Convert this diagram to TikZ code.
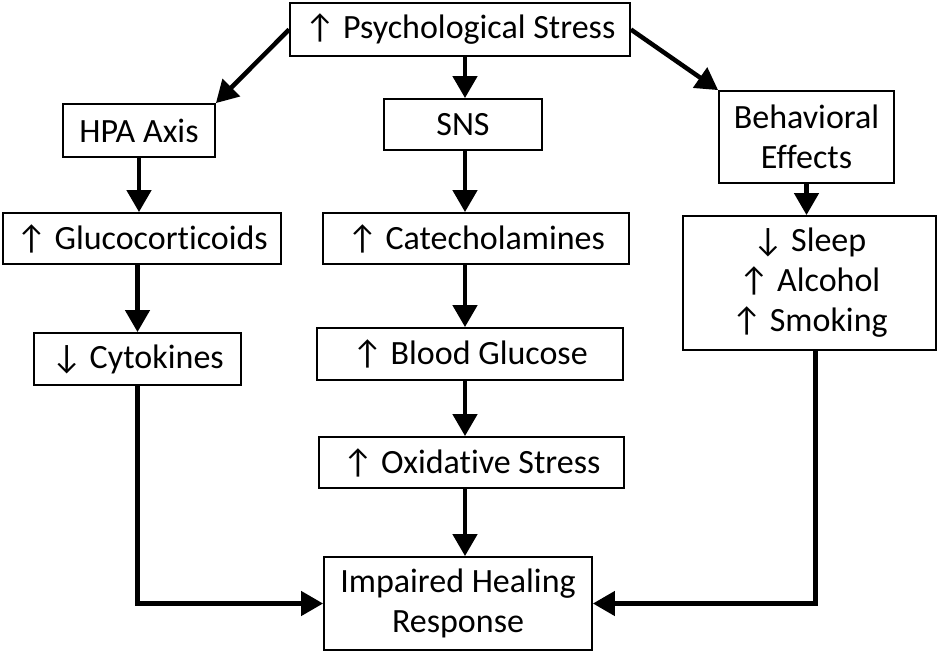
\documentclass[tikz,border=0pt]{standalone}
\usepackage{fontspec}
\setmainfont{Carlito}[Ligatures=NoCommon]
\usetikzlibrary{arrows.meta}
\begin{document}
\begin{tikzpicture}[x=1pt,y=-1pt,
  box/.style={draw, line width=1.8pt, inner sep=0pt, align=center, font=\fontsize{34}{40}\selectfont},
  arr/.style={line width=4.5pt, -{Triangle[length=22pt,width=24pt]}}]
\useasboundingbox (0,0) rectangle (939,654);
\node[box, minimum width=340pt, minimum height=53pt] (stress) at (460,29.5) {↑ Psychological Stress};
\node[box, minimum width=152pt, minimum height=53pt] (hpa) at (139,130.5) {HPA Axis};
\node[box, minimum width=158pt, minimum height=51pt] (sns) at (463,124.5) {SNS};
\node[box, minimum width=175pt, minimum height=92pt] (beh) at (806.5,137) {Behavioral\\Effects};
\node[box, minimum width=278pt, minimum height=51pt] (gluc) at (142,238.5) {↑ Glucocorticoids};
\node[box, minimum width=306pt, minimum height=51pt] (cat) at (476,238.5) {↑ Catecholamines};
\node[box, minimum width=207pt, minimum height=52pt] (cyto) at (137.5,359) {↓ Cytokines};
\node[box, minimum width=306pt, minimum height=52pt] (blood) at (470,354) {↑ Blood Glucose};
\node[box, minimum width=253pt, minimum height=134pt] (sleep) at (809.5,283) {↓ Sleep\\↑ Alcohol\\↑ Smoking};
\node[box, minimum width=305pt, minimum height=51pt] (oxid) at (471.5,462.5) {↑ Oxidative Stress};
\node[box, minimum width=268pt, minimum height=93pt] (imp) at (458,603.5) {Impaired Healing\\Response};
\coordinate (cx) at (465,0);
\draw[arr] (stress.west) -- (hpa.north east);
\draw[arr] (stress.east) -- (beh.north west);
\draw[arr] (stress.south -| cx) -- (sns.north -| cx);
\draw[arr] (hpa.south) -- (hpa.south |- gluc.north);
\draw[arr] (cyto.north |- gluc.south) -- (cyto.north);
\draw[arr] (sns.south -| cx) -- (cat.north -| cx);
\draw[arr] (cat.south -| cx) -- (blood.north -| cx);
\draw[arr] (blood.south -| cx) -- (oxid.north -| cx);
\draw[arr] (oxid.south -| cx) -- (imp.north -| cx);
\draw[arr] (beh.south) -- (beh.south |- sleep.north);
\draw[arr] (cyto.south) |- (imp.west);
\draw[arr] ([xshift=6pt]sleep.south) |- (imp.east);
\end{tikzpicture}
\end{document}
